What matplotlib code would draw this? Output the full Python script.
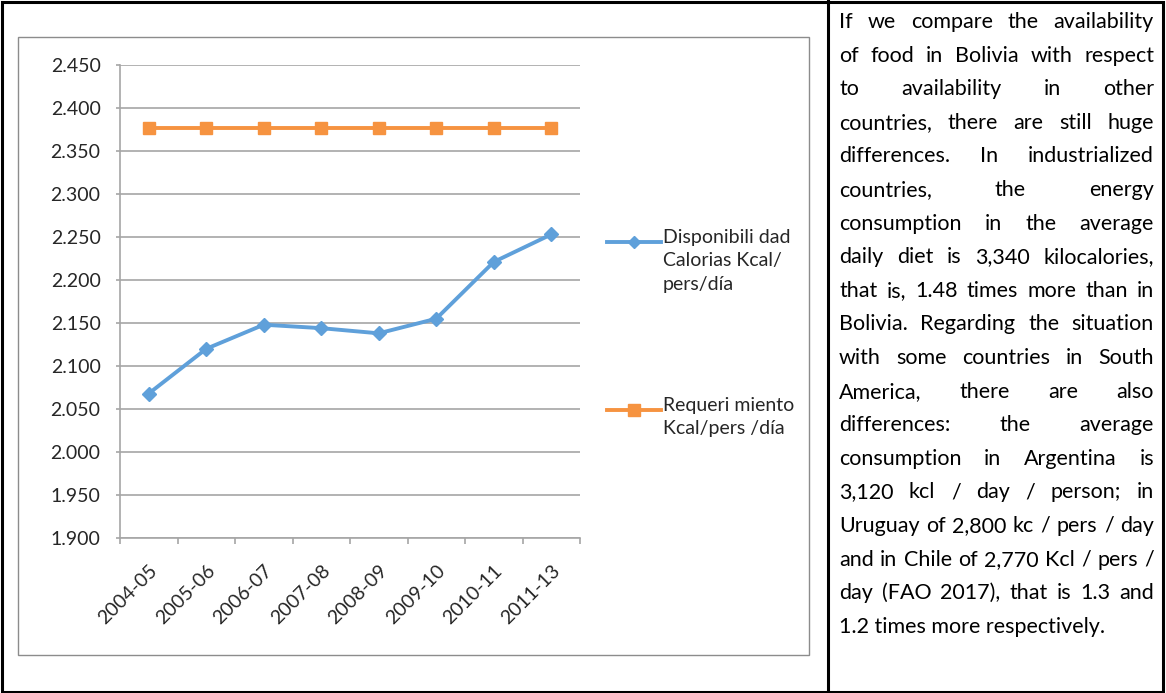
import matplotlib
matplotlib.use("Agg")
import matplotlib.pyplot as plt
from matplotlib.lines import Line2D
from matplotlib.patches import Rectangle
from matplotlib.ticker import FuncFormatter, FixedLocator

plt.rcParams['font.family'] = ['Lato', 'DejaVu Sans']

# data (kcal per person per day)
periodos = ['2004-05', '2005-06', '2006-07', '2007-08',
            '2008-09', '2009-10', '2010-11', '2011-13']
disponibilidad = [2068, 2120, 2148, 2144, 2138, 2155, 2221, 2253]
requerimiento = [2377, 2377, 2377, 2377, 2377, 2377, 2377, 2377]

lbl_disp = 'Disponibili dad\nCalorias Kcal/\npers/día'
lbl_req = 'Requeri miento\nKcal/pers /día'

parrafo = [
    'If we compare the availability',
    'of food in Bolivia with respect',
    'to availability in other',
    'countries, there are still huge',
    'differences. In industrialized',
    'countries, the energy',
    'consumption in the average',
    'daily diet is 3,340 kilocalories,',
    'that is, 1.48 times more than in',
    'Bolivia. Regarding the situation',
    'with some countries in South',
    'America, there are also',
    'differences: the average',
    'consumption in Argentina is',
    '3,120 kcl / day / person; in',
    'Uruguay of 2,800 kc / pers / day',
    'and in Chile of 2,770 Kcl / pers /',
    'day (FAO 2017), that is 1.3 and',
    '1.2 times more respectively.',
]

azul = '#5fa0da'
naranja = '#f69340'
gris = '#a6a6a6'
texto = '#262626'

W, H = 1166, 693
fig = plt.figure(figsize=(W / 100, H / 100), dpi=100)

def fx(px):
    return px / W

def fy(py):
    return 1 - py / H

# table borders
fig.add_artist(Rectangle((fx(1.5), fy(691.5)), fx(1161), 690 / H, transform=fig.transFigure,
                         fill=False, ec='black', lw=2.2))
fig.add_artist(Line2D([fx(827.5), fx(827.5)], [fy(1), fy(692)], transform=fig.transFigure,
                      color='black', lw=2.2))
# chart frame
fig.add_artist(Rectangle((fx(18), fy(655)), fx(791), 618 / H, transform=fig.transFigure,
                         fill=False, ec='#8c8c8c', lw=1))

ax = fig.add_axes([fx(120), fy(538), fx(460), 473 / H])
x = range(len(periodos))
ax.plot(x, disponibilidad, color=azul, lw=2.8, marker='D', ms=7.5, mec=azul, mfc=azul)
ax.plot(x, requerimiento, color=naranja, lw=2.8, marker='s', ms=9, mec=naranja, mfc=naranja)

ax.set_xlim(-0.5, len(periodos) - 0.5)
ax.set_ylim(1900, 2450)
ax.set_yticks(range(1900, 2451, 50))
ax.yaxis.set_major_formatter(FuncFormatter(lambda v, p: f'{int(v):,}'.replace(',', '.')))
ax.grid(axis='y', color=gris, lw=1.2)
ax.set_axisbelow(True)

ax.set_xticks(list(x))
ax.set_xticklabels(periodos, rotation=45, ha='right', va='top', rotation_mode='anchor')
ax.xaxis.set_minor_locator(FixedLocator([i - 0.5 for i in range(len(periodos) + 1)]))
ax.tick_params(axis='x', which='major', length=0, pad=17, labelsize=14, labelcolor=texto)
ax.tick_params(axis='x', which='minor', length=4.5, color=gris, width=1.2)
ax.tick_params(axis='y', length=3, color=gris, width=1.2, pad=11, labelsize=14,
               labelcolor=texto)
for s in ['top', 'right']:
    ax.spines[s].set_visible(False)
for s in ['left', 'bottom']:
    ax.spines[s].set_color(gris)
    ax.spines[s].set_linewidth(1.2)

# legend entries
for ypx, col, mk, ms, lbl in [(242, azul, 'D', 6, lbl_disp), (410, naranja, 's', 8.5, lbl_req)]:
    fig.add_artist(Line2D([fx(607), fx(661)], [fy(ypx), fy(ypx)], transform=fig.transFigure,
                          color=col, lw=2.8))
    fig.add_artist(Line2D([fx(634)], [fy(ypx)], transform=fig.transFigure, color=col,
                          marker=mk, ms=ms, mec=col, mfc=col))
    fig.text(fx(663), fy(ypx - 13), lbl, ha='left', va='top', fontsize=14,
             color=texto, linespacing=1.45)

# justified paragraph
renderer = fig.canvas.get_renderer()
x0, x1 = 839, 1154
base0, paso = 28, 33.6
fs = 15.5
for i, linea in enumerate(parrafo):
    yy = fy(base0 + i * paso)
    if i == len(parrafo) - 1:
        fig.text(fx(x0), yy, linea, ha='left', va='baseline', fontsize=fs, color='black')
        continue
    palabras = linea.split(' ')
    objs = [fig.text(0, yy, p, ha='left', va='baseline', fontsize=fs, color='black')
            for p in palabras]
    anchos = [o.get_window_extent(renderer).width for o in objs]
    hueco = (x1 - x0 - sum(anchos)) / (len(palabras) - 1)
    pos = x0
    for o, a in zip(objs, anchos):
        o.set_x(fx(pos))
        pos += a + hueco

fig.savefig('out.png', dpi=100)
